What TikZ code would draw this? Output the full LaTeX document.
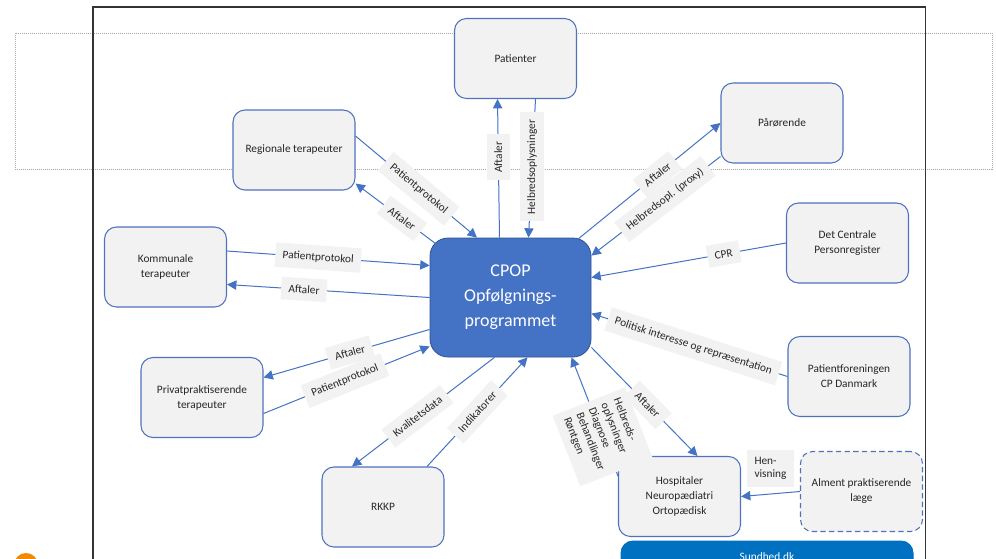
\documentclass[tikz,border=0pt]{standalone}
\usepackage{fontspec}
\setmainfont{Carlito}
\usetikzlibrary{arrows.meta,calc}

\definecolor{hubblue}{RGB}{68,114,196}
\definecolor{hubedge}{RGB}{47,82,143}
\definecolor{boxfill}{RGB}{242,242,242}
\definecolor{boxedge}{RGB}{79,113,190}
\definecolor{linkblue}{RGB}{68,114,196}
\definecolor{sundblue}{RGB}{0,112,192}
\definecolor{logoorange}{RGB}{240,138,0}
\definecolor{inkgray}{RGB}{38,38,38}

\tikzset{every picture/.style={line width=0.75pt}}
\tikzset{
  actor/.style={draw=boxedge, fill=boxfill, rounded corners=9pt, line width=0.8pt,
    minimum width=91.5pt, minimum height=60pt, align=center, text=inkgray,
    font=\fontsize{8.5}{11.25}\selectfont},
  hub/.style={draw=hubedge, fill=hubblue, rounded corners=13.5pt, line width=0.6pt,
    minimum width=120.75pt, minimum height=89.25pt, align=center, text=white,
    font=\fontsize{13.5}{18.75}\selectfont},
  portal/.style={draw=sundblue, fill=sundblue, rounded corners=9pt,
    minimum width=219pt, minimum height=24pt, text=white,
    font=\fontsize{8.5}{10}\selectfont},
  link/.style={draw=linkblue, line width=0.75pt, -{Triangle[length=7pt,width=7pt]}},
  tag/.style={fill=boxfill, inner xsep=5.5pt, inner ysep=5.5pt, text=inkgray,
    font=\fontsize{8.5}{10}\selectfont},
  stag/.style={tag, sloped}
}

\begin{document}
\begin{tikzpicture}[x=0.75pt,y=-0.75pt]
\useasboundingbox (0,0) rectangle (996,558);

% frames
\draw [black!35, line width=0.5pt, dash pattern=on 0.75pt off 0.75pt] (15,33) rectangle (992.5,169.5);
\draw [black!80, line width=1pt] (93,7) rectangle (925.5,600);
\fill [logoorange] (26,565) circle [radius=12];

% actors
\node [hub] (cpop) at (510.5,297.5) {CPOP\\Opfølgnings-\\programmet};
\node [actor] (pat) at (515.5,58.5) {Patienter};
\node [actor] (reg) at (294,150) {Regionale terapeuter};
\node [actor] (par) at (782,123) {Pårørende};
\node [actor] (kom) at (165.5,267) {Kommunale\\terapeuter};
\node [actor] (det) at (847.5,243) {Det Centrale\\Personregister};
\node [actor] (pf) at (849,376.5) {Patientforeningen\\CP Danmark};
\node [actor] (priv) at (202,397.5) {Privatpraktiserende\\terapeuter};
\node [actor] (rkkp) at (383,507) {RKKP};
\node [actor] (hosp) at (679.5,496.5) {Hospitaler\\Neuropædiatri\\Ortopædisk};
\node [actor, dashed, dash pattern=on 4pt off 2.5pt] (alm) at (861.5,491.5) {Alment praktiserende\\læge};
\node [portal] (sund) at (767,557) {Sundhed.dk};

% flows
\draw [link] ($(reg.east)+(0,-14)$) -- node[stag,pos=0.52]{Patientprotokol} ($(cpop.north)+(-33.5,0)$);
\draw [link] ($(cpop.north west)+(6,6)$) -- node[stag,pos=0.42]{Aftaler} ($(reg.south east)+(0,-7)$);

\draw [link] ($(cpop.north)+(-11,0)$) -- node[tag,pos=0.58,rotate=90]{Aftaler} ($(pat.south)+(-18,0)$);
\draw [link] ($(pat.south)+(20,0)$) -- node[tag,pos=0.49,rotate=90]{Helbredsoplysninger} ($(cpop.north)+(18,0)$);

\draw [link] ($(cpop.north east)+(-14,2)$) -- node[stag,pos=0.56]{Aftaler} (par.west);
\draw [link] ($(par.south west)+(0,-7)$) -- node[stag,pos=0.43]{Helbredsopl. (proxy)} ($(cpop.north east)+(0,18)$);

\draw [link] (det.west) -- node[stag,pos=0.32]{CPR} ($(cpop.east)+(0,-20)$);

\draw [link] ($(kom.east)+(0,-16)$) -- node[stag,pos=0.45]{Patientprotokol} ($(cpop.west)+(0,-32)$);
\draw [link] (cpop.west) -- node[stag,pos=0.62]{Aftaler} ($(kom.east)+(0,17.5)$);

\draw [link] (pf.west) -- node[stag,pos=0.48]{Politisk interesse og repræsentation} ($(cpop.east)+(0,16)$);

\draw [link] ($(cpop.west)+(0,32)$) -- node[stag,pos=0.48]{Aftaler} ($(priv.east)+(0,-20)$);
\draw [link] ($(priv.east)+(0,16)$) -- node[stag,pos=0.49]{Patientprotokol} ($(cpop.south west)+(0,-11)$);

\draw [link] ($(cpop.south)+(-16,0)$) -- node[stag,pos=0.54]{Kvalitetsdata} ($(rkkp.north)+(-31,0)$);
\draw [link] ($(rkkp.north)+(44,0)$) -- node[stag,pos=0.5]{Indikatorer} ($(cpop.south)+(17,0)$);

\draw [link] ($(hosp.north west)+(0,20)$) -- node[stag,pos=0.33,align=left]{Helbreds-\\oplysninger\\Diagnose\\Behandlinger\\Røntgen} ($(cpop.south)+(61,0)$);
\draw [link] ($(cpop.south east)+(0,-10)$) -- node[stag,pos=0.53]{Aftaler} ($(hosp.north)+(18,0)$);

\draw [link] (alm.west) -- node[tag,above=5pt,align=left]{Hen-\\visning} (hosp.east);

\end{tikzpicture}
\end{document}
